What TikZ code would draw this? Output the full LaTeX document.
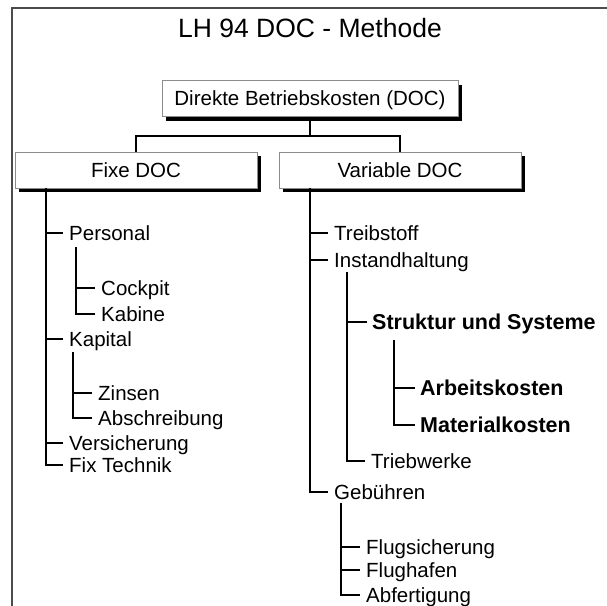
\documentclass[tikz,border=0pt]{standalone}
\usepackage{fontspec}
\setmainfont{Liberation Sans}
\usetikzlibrary{shadows}
\begin{document}
\begin{tikzpicture}[x=1pt,y=-1pt,
  box/.style={draw=black!45, line width=0.9pt, fill=white, minimum height=36pt,
    text height=14pt, text depth=0pt, inner sep=0pt, font=\fontsize{20.5}{24}\selectfont,
    drop shadow={shadow xshift=4pt, shadow yshift=-4pt, fill=black, opacity=1}},
  item/.style={anchor=west, inner xsep=6pt, inner ysep=0pt, text height=14pt,
    text depth=0pt, font=\fontsize{20.5}{24}\selectfont},
  bitem/.style={item, inner xsep=5pt, font=\fontsize{21.5}{24}\bfseries\selectfont},
  conn/.style={line width=1.3pt, black},
  frame/.style={line width=2pt, black!70},
]
\useasboundingbox (0,0) rectangle (607,605);
\draw[frame] (12,607) -- (12,8) -- (609,8);

\node[font=\fontsize{26.5}{30}\selectfont, text height=19pt, text depth=0pt, inner sep=0pt]
  (title) at (310,27.5) {LH 94 DOC - Methode};

\node[box, minimum width=296pt] (root) at (310,98.5) {Direkte Betriebskosten (DOC)};
\node[box, minimum width=242pt] (fixe) at (136,170) {Fixe DOC};
\node[box, minimum width=242pt] (variable) at (400,170) {Variable DOC};

\coordinate (j) at (310,136);
\draw[conn] (root.south) -- (j);
\draw[conn] (fixe.north) |- (j) -| (variable.north);

% left tree
\node[item] (personal) at (63,233) {Personal};
\node[item] (cockpit) at (95,288) {Cockpit};
\node[item] (kabine) at (95,314) {Kabine};
\node[item] (kapital) at (63,339) {Kapital};
\node[item] (zinsen) at (92,393) {Zinsen};
\node[item] (abschr) at (92,418) {Abschreibung};
\node[item] (vers) at (63,443) {Versicherung};
\node[item] (fixtech) at (63,465) {Fix Technik};

\coordinate (fv) at (46,188);
\coordinate (pv) at (76,247);
\coordinate (kv) at (73,352);
\draw[conn] (fv) |- (fixtech.west);
\foreach \n in {personal,kapital,vers} \draw[conn] (\n.west) -- (\n.west -| fv);
\draw[conn] (pv) |- (kabine.west);
\draw[conn] (cockpit.west) -- (cockpit.west -| pv);
\draw[conn] (kv) |- (abschr.west);
\draw[conn] (zinsen.west) -- (zinsen.west -| kv);

% right tree
\node[item] (treib) at (328,233) {Treibstoff};
\node[item] (instand) at (328,260) {Instandhaltung};
\node[bitem] (struktur) at (367,322) {Struktur und Systeme};
\node[bitem] (arbeit) at (415,388) {Arbeitskosten};
\node[bitem] (material) at (415,425) {Materialkosten};
\node[item] (triebw) at (365,461) {Triebwerke};
\node[item] (gebuehr) at (328,492) {Gebühren};
\node[item] (flugs) at (360,547) {Flugsicherung};
\node[item] (flugh) at (360,570) {Flughafen};
\node[item] (abf) at (360,595) {Abfertigung};

\coordinate (vv) at (310,188);
\coordinate (iv) at (347,272);
\coordinate (sv) at (394,340);
\coordinate (gv) at (341,503);
\draw[conn] (vv) |- (gebuehr.west);
\foreach \n in {treib,instand} \draw[conn] (\n.west) -- (\n.west -| vv);
\draw[conn] (iv) |- (triebw.west);
\draw[conn] (struktur.west) -- (struktur.west -| iv);
\draw[conn] (sv) |- (material.west);
\draw[conn] (arbeit.west) -- (arbeit.west -| sv);
\draw[conn] (gv) |- (abf.west);
\foreach \n in {flugs,flugh} \draw[conn] (\n.west) -- (\n.west -| gv);
\end{tikzpicture}
\end{document}
